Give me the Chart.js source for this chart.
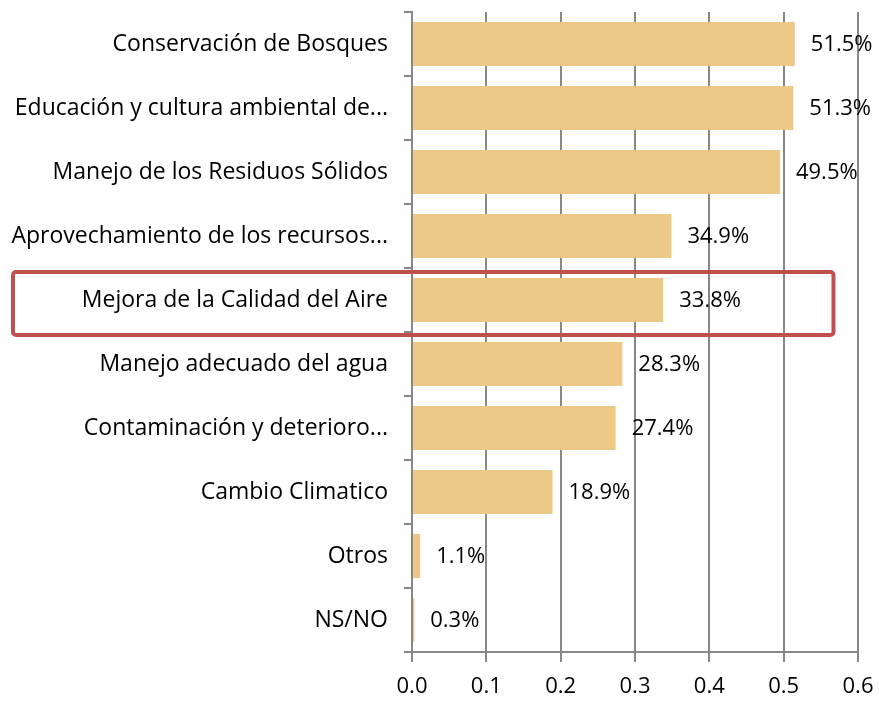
<!DOCTYPE html>
<html>
<head>
<meta charset="utf-8">
<script src="https://cdn.jsdelivr.net/npm/chart.js@4.4.1/dist/chart.umd.min.js"></script>
<style>
  html, body { margin: 0; padding: 0; background: #fff; }
  #wrap { position: relative; width: 879px; height: 701px; }
</style>
</head>
<body>
<div id="wrap"><canvas id="chart"></canvas></div>
<script>
const categories = [
  'Conservación de Bosques',
  'Educación y cultura ambiental de...',
  'Manejo de los Residuos Sólidos',
  'Aprovechamiento de los recursos...',
  'Mejora de la Calidad del Aire',
  'Manejo adecuado del agua',
  'Contaminación y deterioro...',
  'Cambio Climatico',
  'Otros',
  'NS/NO'
];
const shares = [0.515, 0.513, 0.495, 0.349, 0.338, 0.283, 0.274, 0.189, 0.011, 0.003];
const xTicks = [0, 0.1, 0.2, 0.3, 0.4, 0.5, 0.6];
const highlighted = 4; // index of the boxed category

const FONT = "'Open Sans', sans-serif";
const GRID = '#878787';

// percentage labels at the end of each bar
const valueLabels = {
  id: 'valueLabels',
  afterDatasetsDraw(chart) {
    const ctx = chart.ctx;
    const meta = chart.getDatasetMeta(0);
    ctx.save();
    ctx.font = '22px ' + FONT;
    ctx.fillStyle = '#000';
    ctx.textBaseline = 'middle';
    meta.data.forEach((bar, i) => {
      ctx.fillText((shares[i] * 100).toFixed(1) + '%', bar.x + 16, bar.y + 1);
    });
    ctx.restore();
  }
};

// red box round the highlighted row
const highlightBox = {
  id: 'highlightBox',
  afterDraw(chart) {
    const ctx = chart.ctx;
    const y = chart.scales.y;
    const x = chart.scales.x;
    const half = (y.getPixelForValue(1) - y.getPixelForValue(0)) / 2;
    const cy = y.getPixelForValue(highlighted);
    const left = 13, right = x.getPixelForValue(0.567);
    ctx.save();
    ctx.strokeStyle = '#C0504D';
    ctx.lineWidth = 4;
    ctx.beginPath();
    ctx.roundRect(left, cy - half + 4, right - left, half * 2 - 1, 3);
    ctx.stroke();
    ctx.restore();
  }
};

new Chart(document.getElementById('chart'), {
  type: 'bar',
  data: {
    labels: categories,
    datasets: [{
      data: shares,
      backgroundColor: '#EDC987',
      barPercentage: 0.69,
      categoryPercentage: 1
    }]
  },
  options: {
    indexAxis: 'y',
    responsive: true,
    maintainAspectRatio: false,
    animation: false,
    layout: { padding: { top: 12, right: 21, left: 0, bottom: 0 } },
    plugins: { legend: { display: false }, tooltip: { enabled: false } },
    scales: {
      x: {
        min: 0,
        max: 0.6,
        afterBuildTicks(scale) { scale.ticks = xTicks.map(v => ({ value: v })); },
        afterFit(scale) {
          scale.height = 49;
          scale.paddingLeft = 0;
          scale.paddingRight = 0;
        },
        grid: { color: GRID, lineWidth: 2, tickLength: 10 },
        border: { color: GRID, width: 2 },
        ticks: {
          color: '#000',
          font: { family: FONT, size: 22 },
          padding: 12,
          callback: v => Number(v).toFixed(1)
        }
      },
      y: {
        afterFit(scale) {
          scale.width = 412;
          scale.paddingTop = 0;
          scale.paddingBottom = 0;
        },
        grid: { offset: true, drawOnChartArea: false, color: GRID, lineWidth: 2, tickLength: 8 },
        border: { color: GRID, width: 2 },
        ticks: {
          color: '#000',
          font: { family: FONT, size: 23 },
          padding: 16,
          autoSkip: false
        }
      }
    }
  },
  plugins: [valueLabels, highlightBox]
});
</script>
</body>
</html>
